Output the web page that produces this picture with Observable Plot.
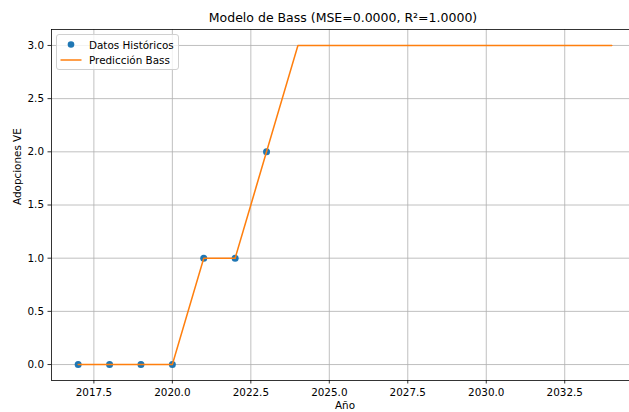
<!DOCTYPE html>
<html>
<head>
<meta charset="utf-8">
<script src="https://cdn.jsdelivr.net/npm/d3@7"></script>
<script src="https://cdn.jsdelivr.net/npm/@observablehq/plot@0.6"></script>
<style>
  body { margin: 0; background: #fff; font-family: "DejaVu Sans", sans-serif; }
  #wrap { position: relative; width: 629px; height: 412px; overflow: hidden; }
  #title { position: relative; height: 22px; }
  #title span { position: absolute; left: 343px; top: 11px; transform: translateX(-50%); font-size: 12.5px; line-height: 14px; white-space: nowrap; color: #000; }
  #legend { position: absolute; left: 56px; top: 34px; width: 123px; height: 36px; box-sizing: border-box; border: 1px solid #d0d0d0; border-radius: 3px; background: rgba(255,255,255,0.8); font-size: 10.4px; color: #000; }
  #legend .row { position: absolute; left: 0; height: 14px; line-height: 14px; white-space: nowrap; }
  #legend svg { position: absolute; left: 0; top: 0; }
</style>
</head>
<body>
<div id="wrap">
  <div id="title"><span>Modelo de Bass (MSE=0.0000, R²=1.0000)</span></div>
  <div id="chart"></div>
  <div id="legend">
    <svg width="30" height="34">
      <circle cx="14" cy="9.5" r="3.3" fill="#1f77b4"></circle>
      <line x1="3.5" x2="24.5" y1="25" y2="25" stroke="#ff7f0e" stroke-width="1.5"></line>
    </svg>
    <div class="row" style="left:32px; top:2.5px;">Datos Históricos</div>
    <div class="row" style="left:32px; top:17.5px;">Predicción Bass</div>
  </div>
</div>
<script>
const histYears = [2017, 2018, 2019, 2020, 2021, 2022, 2023];
const histValues = [0, 0, 0, 0, 1, 1, 2];
const predYears = [2017, 2018, 2019, 2020, 2021, 2022, 2023, 2024, 2025, 2026, 2027, 2028, 2029, 2030, 2031, 2032, 2033, 2034];
const predValues = [0, 0, 0, 0, 1, 1, 2, 3, 3, 3, 3, 3, 3, 3, 3, 3, 3, 3];
const xTicks = [2017.5, 2020.0, 2022.5, 2025.0, 2027.5, 2030.0, 2032.5];
const yTicks = [0.0, 0.5, 1.0, 1.5, 2.0, 2.5, 3.0];
const xLabel = "Año";
const yLabel = "Adopciones VE";

const hist = histYears.map((x, i) => ({x, y: histValues[i]}));
const pred = predYears.map((x, i) => ({x, y: predValues[i]}));

const xDomain = [2016.15, 2034.85];
const yDomain = [-0.15, 3.15];

const chart = Plot.plot({
  width: 629,
  height: 390,
  marginLeft: 51,
  marginRight: 0,
  marginTop: 7,
  marginBottom: 32,
  style: {fontFamily: "DejaVu Sans, sans-serif", fontSize: "10.4px", color: "#000", background: "#fff", overflow: "hidden"},
  x: {domain: xDomain, range: [51, 638]},
  y: {domain: yDomain, range: [358, 7]},
  marks: [
    Plot.gridX(xTicks, {stroke: "#b0b0b0", strokeOpacity: 1, strokeWidth: 0.8}),
    Plot.gridY(yTicks, {stroke: "#b0b0b0", strokeOpacity: 1, strokeWidth: 0.8}),
    Plot.dot(hist, {x: "x", y: "y", r: 3.5, fill: "#1f77b4", stroke: null}),
    Plot.line(pred, {x: "x", y: "y", stroke: "#ff7f0e", strokeWidth: 1.5}),
    Plot.ruleX([xDomain[0]], {stroke: "#000", strokeWidth: 0.8}),
    Plot.ruleY([yDomain[0], yDomain[1]], {stroke: "#000", strokeWidth: 0.8}),
    Plot.axisX(xTicks, {tickFormat: d => d.toFixed(1), tickSize: 3.5, tickPadding: 4.5, label: null, stroke: "#000", strokeWidth: 0.8, fill: "#000", fontSize: 10.4}),
    Plot.axisY(yTicks, {tickFormat: d => d.toFixed(1), tickSize: 3.5, tickPadding: 4, label: null, stroke: "#000", strokeWidth: 0.8, fill: "#000", fontSize: 10.4}),
    Plot.text([xLabel], {x: () => (xDomain[0] + xDomain[1]) / 2, frameAnchor: "bottom", dy: 28.5, text: d => d, fill: "#000", fontSize: 10.4}),
    Plot.text([yLabel], {frameAnchor: "left", dx: -34, rotate: -90, text: d => d, fill: "#000", fontSize: 10.4})
  ]
});
document.getElementById("chart").appendChild(chart);
</script>
</body>
</html>
